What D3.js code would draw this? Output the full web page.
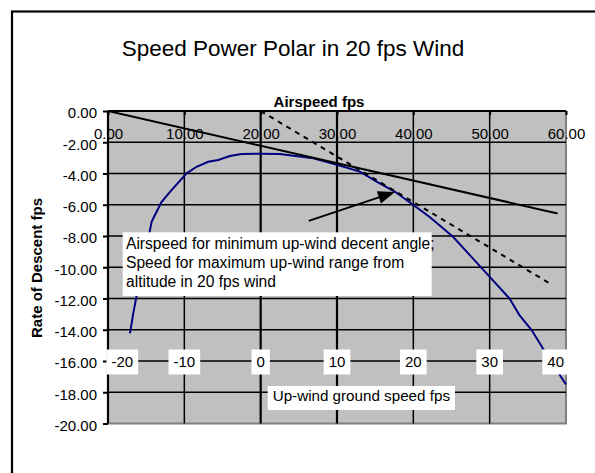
<!DOCTYPE html>
<html><head><meta charset="utf-8">
<script src="https://cdn.jsdelivr.net/npm/d3@7"></script>
<style>
html,body{margin:0;padding:0;background:#fff;}
svg{display:block;font-family:"Liberation Sans",Arial,sans-serif;}
</style></head>
<body>
<svg id="c" width="595" height="473"></svg>
<script>
// ---- data ----
const airspeed = [2.88,3.31,3.97,4.84,5.41,5.72,6.15,7.03,8.12,10.3,11.6,13.13,14.44,15.97,17.5,20,22.5,26.9,30.1,33.0,35.2,37.6,40.0,42.1,45.2,47.4,49.8,52.6,53.9,55.5,57.9,60];
const descent  = [-14.23,-12.95,-11.25,-9.11,-7.83,-7.09,-6.66,-5.81,-5.17,-3.99,-3.57,-3.25,-3.14,-2.88,-2.75,-2.74,-2.75,-3.03,-3.46,-3.88,-4.52,-5.17,-6.02,-6.77,-8.05,-9.22,-10.5,-12.0,-13.06,-14.02,-15.94,-17.5];
const stillAirX = [0, 58.9];
const stillAirY = [0, -6.56];
const windX = [20, 58.1];
const windY = [0, -11.1];
const xTicks = [0,10,20,30,40,50,60];
const yTicks = [0,-2,-4,-6,-8,-10,-12,-14,-16,-18,-20];
const groundTicks = [-20,-10,0,10,20,30,40];
const windSpeed = 20;
const arrowFrom = [26.3, -7.03];
const arrowTo = [37.6, -5.18];
const noteLines = ["Airspeed for minimum up-wind decent angle;","Speed for maximum up-wind range from","altitude in 20 fps wind"];
const title = "Speed Power Polar in 20 fps Wind";
const xTitle = "Airspeed fps";
const yTitle = "Rate of Descent fps";
const groundTitle = "Up-wind ground speed fps";

// ---- layout ----
const svg = d3.select("#c");
const L = 108, R = 566, T = 111, B = 423.5;
const x = d3.scaleLinear().domain([0,60]).range([L,R]);
const y = d3.scaleLinear().domain([-20,0]).range([B,T]);
const FS = 15;

svg.append("rect").attr("width",595).attr("height",473).attr("fill","#fff");
// outer frame
svg.append("rect").attr("x",12).attr("y",11.5).attr("width",700).attr("height",600)
  .attr("fill","none").attr("stroke","#000").attr("stroke-width",2.2);

// title
svg.append("text").attr("x",293).attr("y",56).attr("text-anchor","middle")
  .attr("font-size",22.5).text(title);

// plot area
svg.append("rect").attr("x",L).attr("y",T).attr("width",R-L).attr("height",B-T).attr("fill","#c0c0c0");
svg.append("path").attr("d",`M${R},${T}V${B}H${L}`).attr("fill","none").attr("stroke","#808080").attr("stroke-width",2);

// gridlines
svg.append("g").selectAll("line").data(yTicks.filter(d=>d!==0 && d!==-20)).join("line")
  .attr("x1",L).attr("x2",R).attr("y1",d=>y(d)).attr("y2",d=>y(d))
  .attr("stroke","#000").attr("stroke-width",1.6);
svg.append("g").selectAll("line").data(xTicks.filter(d=>d!==0 && d!==60)).join("line")
  .attr("x1",d=>x(d)).attr("x2",d=>x(d)).attr("y1",T).attr("y2",B)
  .attr("stroke","#000").attr("stroke-width",d=>(d===20||d===30)?2.2:1.5);

// y axis
const ya = svg.append("g").attr("transform",`translate(${L},0)`)
  .call(d3.axisLeft(y).tickValues(yTicks).tickSize(5).tickPadding(6).tickFormat(d=>d.toFixed(2)));
ya.select(".domain").attr("stroke-width",2.2).attr("d",`M0,${T}V${B}`);
ya.selectAll(".tick line").attr("stroke-width",2);
ya.selectAll("text").attr("font-size",FS).attr("fill","#000").attr("font-family","Liberation Sans, Arial, sans-serif").attr("dy","0.45em");

// x axis at top (y=0)
const xa = svg.append("g").attr("transform",`translate(0,${T})`)
  .call(d3.axisBottom(x).tickValues(xTicks).tickSize(4).tickPadding(13).tickFormat(d=>d.toFixed(2)));
xa.select(".domain").attr("stroke-width",2.2).attr("d",`M${L},0H${R}`);
xa.selectAll(".tick line").attr("stroke-width",2);
xa.selectAll("text").attr("font-size",FS).attr("fill","#000").attr("font-family","Liberation Sans, Arial, sans-serif");

// axis titles
svg.append("text").attr("x",319).attr("y",107).attr("text-anchor","middle")
  .attr("font-size",FS).attr("font-weight","bold").text(xTitle);
svg.append("text").attr("transform","translate(42,268) rotate(-90)").attr("text-anchor","middle")
  .attr("font-size",FS).attr("font-weight","bold").text(yTitle);

// series
const clipId="clipPlot";
svg.append("clipPath").attr("id",clipId).append("rect").attr("x",L).attr("y",T-2).attr("width",R-L+1).attr("height",B-T+2);
const gS = svg.append("g").attr("clip-path",`url(#${clipId})`);
gS.append("path").datum(d3.zip(airspeed,descent))
  .attr("d",d3.line().x(d=>x(d[0])).y(d=>y(d[1])))
  .attr("fill","none").attr("stroke","#000080").attr("stroke-width",2);
gS.append("path").datum(d3.zip(stillAirX,stillAirY))
  .attr("d",d3.line().x(d=>x(d[0])).y(d=>y(d[1])))
  .attr("fill","none").attr("stroke","#000").attr("stroke-width",2);
gS.append("path").datum(d3.zip(windX,windY))
  .attr("d",d3.line().x(d=>x(d[0])).y(d=>y(d[1])))
  .attr("fill","none").attr("stroke","#000").attr("stroke-width",2).attr("stroke-dasharray","5,5");

// arrow
const ax1=x(arrowFrom[0]), ay1=y(arrowFrom[1]), ax2=x(arrowTo[0]), ay2=y(arrowTo[1]);
const ang=Math.atan2(ay2-ay1,ax2-ax1), hl=17, hw=6.5;
const bx=ax2-hl*Math.cos(ang), by=ay2-hl*Math.sin(ang);
svg.append("line").attr("x1",ax1).attr("y1",ay1).attr("x2",bx).attr("y2",by).attr("stroke","#000").attr("stroke-width",2);
svg.append("path").attr("d",`M${ax2},${ay2}L${bx+hw*Math.sin(ang)},${by-hw*Math.cos(ang)}L${bx-hw*Math.sin(ang)},${by+hw*Math.cos(ang)}Z`).attr("fill","#000");

// note box
svg.append("rect").attr("x",122.7).attr("y",232.3).attr("width",309).attr("height",63.7).attr("fill","#fff");
svg.append("g").selectAll("text").data(noteLines).join("text")
  .attr("x",126).attr("y",(d,i)=>248.5+i*19).attr("font-size",15.6).text(d=>d);

// ground speed labels (secondary scale at y=-16)
const gy = y(-16);
const gl = svg.append("g").selectAll("g").data(groundTicks).join("g");
gl.each(function(g){
  const sel=d3.select(this);
  const t=sel.append("text").attr("font-size",FS).attr("text-anchor","middle").attr("y",gy+5.5).text(g);
  const w=t.node().getComputedTextLength();
  let cx=x(g+windSpeed);
  const half=w/2+5;
  cx=Math.max(L+half-1.5, Math.min(R-half+3, cx));
  t.attr("x",cx);
  sel.insert("rect","text").attr("x",cx-half).attr("y",gy-11.5).attr("width",2*half).attr("height",25).attr("fill","#fff");
});
// ground speed title
const gt = svg.append("text").attr("x",272.7).attr("y",400.5).attr("font-size",15.2).text(groundTitle);
const gw = gt.node().getComputedTextLength();
svg.insert("rect",()=>gt.node()).attr("x",267.7).attr("y",386).attr("width",gw+10).attr("height",24).attr("fill","#fff");
</script>
</body></html>
